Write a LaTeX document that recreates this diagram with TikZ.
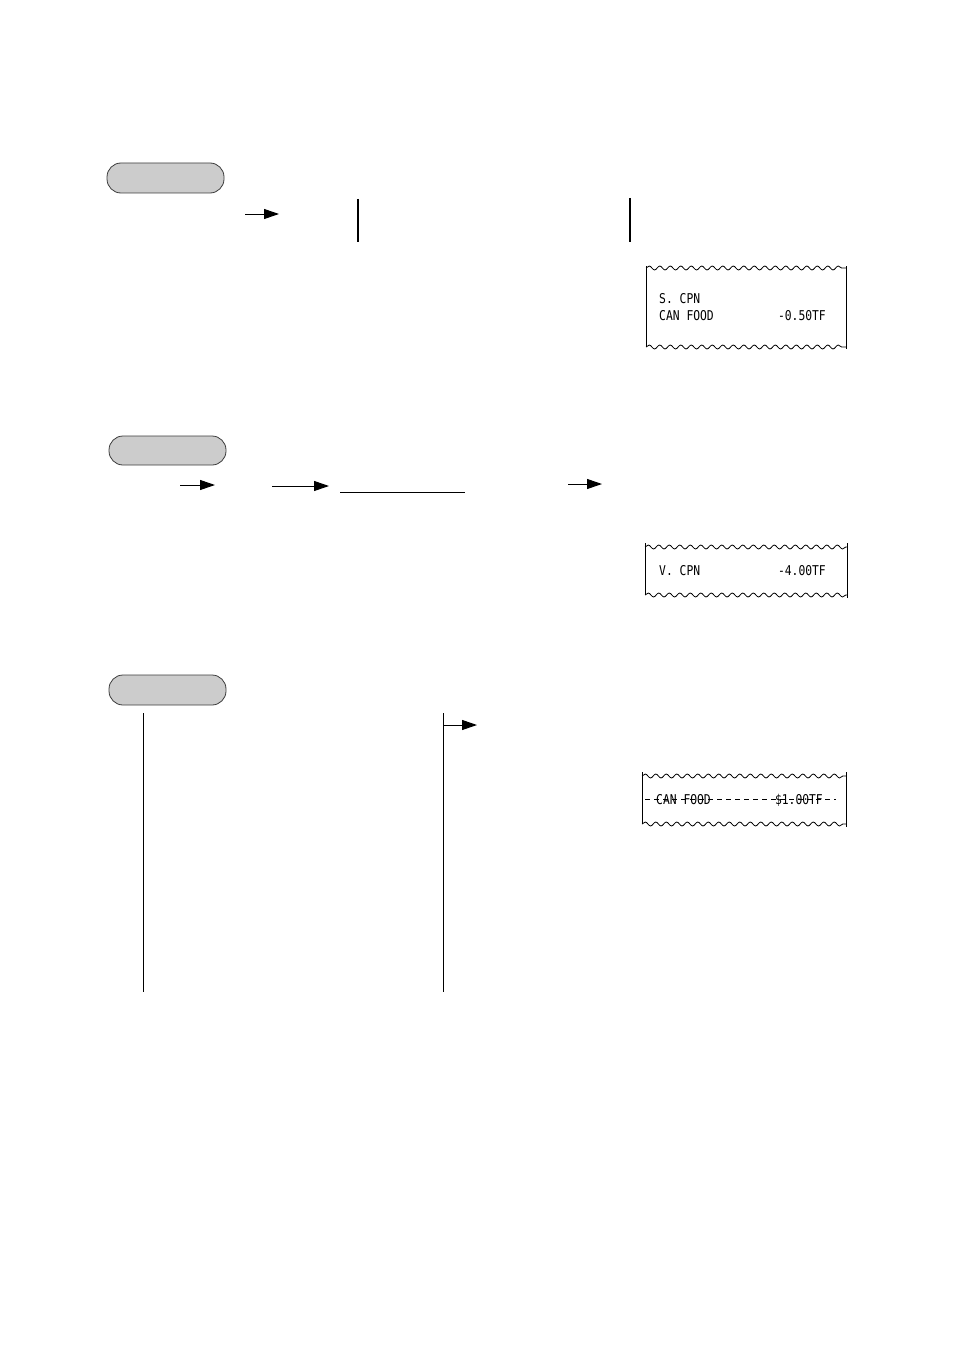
\documentclass[tikz,border=0pt]{standalone}
\usepackage{fontspec}
\newfontfamily\rcpt[FakeStretch=0.84]{DejaVu Sans Mono}
\usetikzlibrary{arrows.meta,decorations.pathmorphing}
\tikzset{
  pill/.style={draw={rgb,255:red,60;green,60;blue,60}, line width=0.8pt, fill={rgb,255:red,204;green,204;blue,204}, rounded corners=14pt},
  conn/.style={line width=1pt, -{Triangle[length=15pt,width=10pt]}},
  bar/.style={line width=1.3pt},
  wave/.style={decorate, decoration={snake, segment length=10.5pt, amplitude=2pt}, line width=0.8pt},
  edge/.style={line width=0.7pt},
  rtext/.style={font=\rcpt\fontsize{13.5}{15}\selectfont, inner sep=0pt},
}
\begin{document}
\begin{tikzpicture}[x=1pt,y=-1pt]
\useasboundingbox (0,0) rectangle (954,1351);
% ---------- section 1 ----------
\draw[pill] (107,163) rectangle (224,193) node[midway] (p1) {};
\coordinate (a1s) at (245,214); \coordinate (a1e) at (279,214);
\draw[conn] (a1s) -- (a1e);
\coordinate (v1a) at (358,199); \coordinate (v1b) at (358,242);
\draw[bar] (v1a) -- (v1b);
\coordinate (v2a) at (630,198); \coordinate (v2b) at (630,242);
\draw[bar] (v2a) -- (v2b);
% receipt 1
\draw[wave] (646,268) -- (846,268);
\draw[wave] (646,347) -- (846,347);
\draw[edge] (646,266) -- (646,347);
\draw[edge] (846,266) -- (846,349);
\node[rtext, anchor=base west] (r1a) at (659,303) {S. CPN};
\node[rtext, anchor=base west] (r1b) at (659,320) {CAN FOOD};
\node[rtext, anchor=base east] (r1c) at (826,320) {-0.50TF};
% ---------- section 2 ----------
\draw[pill] (109,436) rectangle (226,465) node[midway] (p2) {};
\coordinate (b1s) at (180,485); \coordinate (b1e) at (215,485);
\draw[conn] (b1s) -- (b1e);
\coordinate (b2s) at (272,486); \coordinate (b2e) at (329,486);
\draw[conn] (b2s) -- (b2e);
\coordinate (u1) at (340,492); \coordinate (u2) at (465,492);
\draw[line width=1pt] (u1) -- (u2);
\coordinate (b3s) at (568,484); \coordinate (b3e) at (602,484);
\draw[conn] (b3s) -- (b3e);
% receipt 2
\draw[wave] (645,547) -- (847,547);
\draw[wave] (645,595) -- (847,595);
\draw[edge] (645,543) -- (645,595);
\draw[edge] (847,543) -- (847,598);
\node[rtext, anchor=base west] (r2a) at (659,575) {V. CPN};
\node[rtext, anchor=base east] (r2b) at (826,575) {-4.00TF};
% ---------- section 3 ----------
\draw[pill] (109,675) rectangle (226,705) node[midway] (p3) {};
\coordinate (w1a) at (143,713); \coordinate (w1b) at (143,992);
\draw[line width=1pt] (w1a) -- (w1b);
\coordinate (w2a) at (443,713); \coordinate (w2b) at (443,992);
\draw[line width=1pt] (w2a) -- (w2b);
\coordinate (c1e) at (477,725);
\draw[conn] (w2a |- c1e) -- (c1e);
% receipt 3
\draw[wave] (642,776) -- (846,776);
\draw[wave] (642,824) -- (846,824);
\draw[edge] (642,772) -- (642,824);
\draw[edge] (846,772) -- (846,827);
\node[rtext, anchor=base west] (r3a) at (656,804) {CAN FOOD};
\node[rtext, anchor=base east] (r3b) at (823,804) {\$1.00TF};
\draw[line width=0.6pt, dash pattern=on 5pt off 4pt] (645,799) -- (836,799);
\end{tikzpicture}
\end{document}
